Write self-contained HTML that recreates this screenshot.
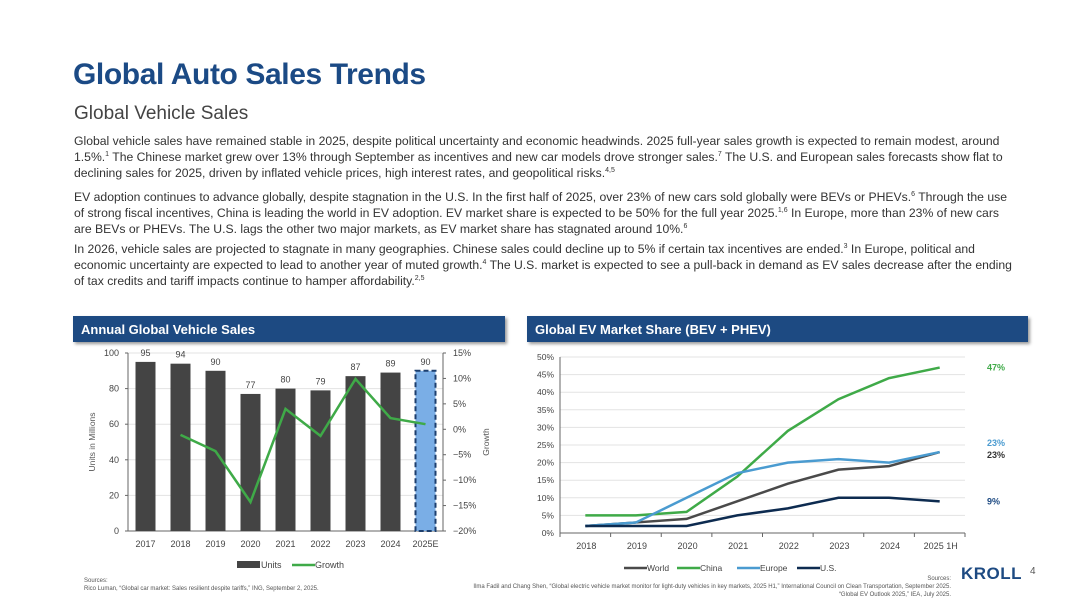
<!DOCTYPE html>
<html><head><meta charset="utf-8"><style>
*{margin:0;padding:0;box-sizing:border-box}
body{width:1067px;height:600px;background:#fff;font-family:"Liberation Sans",sans-serif;position:relative;overflow:hidden;color:#333}
.abs{position:absolute}
h1{position:absolute;left:73px;top:58px;font-size:30px;font-weight:bold;color:#1b4a85;letter-spacing:-0.4px}
h2{position:absolute;left:74px;top:103px;font-size:19px;font-weight:normal;color:#444}
.p{position:absolute;left:74px;font-size:12.2px;line-height:16px;color:#333;white-space:nowrap}
sup{font-size:7px;vertical-align:5px;line-height:0}
.banner{position:absolute;top:316px;height:26px;background:#1d4a82;color:#fff;font-weight:bold;font-size:13px;padding:6px 0 0 8px;box-shadow:2px 2px 3px #999}
svg text{font-family:"Liberation Sans",sans-serif}
</style></head><body>
<h1>Global Auto Sales Trends</h1>
<h2>Global Vehicle Sales</h2>
<div class="p" style="top:133px">Global vehicle sales have remained stable in 2025, despite political uncertainty and economic headwinds. 2025 full-year sales growth is expected to remain modest, around<br>1.5%.<sup>1</sup> The Chinese market grew over 13% through September as incentives and new car models drove stronger sales.<sup>7</sup> The U.S. and European sales forecasts show flat to<br>declining sales for 2025, driven by inflated vehicle prices, high interest rates, and geopolitical risks.<sup>4,5</sup></div>
<div class="p" style="top:189px">EV adoption continues to advance globally, despite stagnation in the U.S. In the first half of 2025, over 23% of new cars sold globally were BEVs or PHEVs.<sup>6</sup> Through the use<br>of strong fiscal incentives, China is leading the world in EV adoption. EV market share is expected to be 50% for the full year 2025.<sup>1,6</sup> In Europe, more than 23% of new cars<br>are BEVs or PHEVs. The U.S. lags the other two major markets, as EV market share has stagnated around 10%.<sup>6</sup></div>
<div class="p" style="top:241px">In 2026, vehicle sales are projected to stagnate in many geographies. Chinese sales could decline up to 5% if certain tax incentives are ended.<sup>3</sup> In Europe, political and<br>economic uncertainty are expected to lead to another year of muted growth.<sup>4</sup> The U.S. market is expected to see a pull-back in demand as EV sales decrease after the ending<br>of tax credits and tariff impacts continue to hamper affordability.<sup>2,5</sup></div>

<div class="banner" style="left:73px;width:432px">Annual Global Vehicle Sales</div>
<div class="banner" style="left:527px;width:501px">Global EV Market Share (BEV + PHEV)</div>

<svg id="c1" class="abs" style="left:0;top:0" width="1067" height="600"></svg>

<div class="abs" style="left:84px;top:577px;font-size:6px;color:#555;line-height:8px">Sources:<br>Rico Luman, “Global car market: Sales resilient despite tariffs,” ING, September 2, 2025.</div>
<div class="abs" style="right:116px;top:575px;font-size:6px;color:#555;line-height:8px;text-align:right">Sources:<br>Ilma Fadil and Chang Shen, “Global electric vehicle market monitor for light-duty vehicles in key markets, 2025 H1,” International Council on Clean Transportation, September 2025.<br>“Global EV Outlook 2025,” IEA, July 2025.</div>
<div class="abs" style="left:961px;top:564px;font-size:17px;font-weight:bold;color:#1d4a82;letter-spacing:0.5px">KROLL</div>
<div class="abs" style="left:1030px;top:566px;font-size:10px;color:#555">4</div>

<script>
const years1=["2017","2018","2019","2020","2021","2022","2023","2024","2025E"];
const units=[95,94,90,77,80,79,87,89,90];
const growth=[null,-1.1,-4.3,-14.3,4,-1.3,9.9,2.2,1];
const leftTicks=[0,20,40,60,80,100];
const rightTicks=[15,10,5,0,-5,-10,-15,-20];
const years2=["2018","2019","2020","2021","2022","2023","2024","2025 1H"];
const world=[2,3,4,9,14,18,19,23];
const china=[5,5,6,16,29,38,44,47];
const europe=[2,3,10,17,20,21,20,23];
const us=[2,2,2,5,7,10,10,9];
const shareTicks=[0,5,10,15,20,25,30,35,40,45,50];

const svg=document.getElementById('c1');const NS="http://www.w3.org/2000/svg";
function mk(t,a,txt){const e=document.createElementNS(NS,t);for(const k in a)e.setAttribute(k,a[k]);if(txt!=null)e.textContent=txt;svg.appendChild(e);return e;}

// chart 1
const L={x0:128,x1:443,y0:531,y1:353};
const bw=(L.x1-L.x0)/years1.length;
const xb=i=>L.x0+bw*(i+0.5);
const yl=v=>L.y0-(v/100)*(L.y0-L.y1);
const yr=v=>L.y0-((v+20)/35)*(L.y0-L.y1);
leftTicks.forEach(v=>{
 if(v>0){const g=mk('line',{x1:L.x0,x2:L.x1,y1:yl(v),y2:yl(v),stroke:'#e3e3e3','stroke-width':1});}
 const t=mk('text',{x:L.x0-9,y:yl(v)+3,'font-size':9,fill:'#444','text-anchor':'end'},v);
 mk('line',{x1:L.x0-3,x2:L.x0,y1:yl(v),y2:yl(v),stroke:'#666'});
});
rightTicks.forEach(v=>{
 const t=mk('text',{x:L.x1+10,y:yr(v)+3,'font-size':9,fill:'#444'},(v<0?'\u2212':'')+Math.abs(v)+'%');
 mk('line',{x1:L.x1,x2:L.x1+3,y1:yr(v),y2:yr(v),stroke:'#666'});
});
mk('line',{x1:L.x0,x2:L.x0,y1:L.y1,y2:L.y0,stroke:'#666'});
mk('line',{x1:L.x1,x2:L.x1,y1:L.y1,y2:L.y0,stroke:'#666'});
mk('line',{x1:L.x0,x2:L.x1,y1:L.y0,y2:L.y0,stroke:'#666'});
units.forEach((v,i)=>{
 const last=i===units.length-1;
 const r=mk('rect',{x:xb(i)-10,y:yl(v),width:20,height:L.y0-yl(v),fill:last?'#7aaee6':'#444',stroke:last?'#1d3f6e':'none','stroke-width':last?2:0,'stroke-dasharray':last?'5,3':''});
 
 const t=mk('text',{x:xb(i),y:yl(v)-6,'font-size':9,fill:'#444','text-anchor':'middle'},v);
 const x=mk('text',{x:xb(i),y:L.y0+16,'font-size':9,fill:'#444','text-anchor':'middle'},years1[i]);
});
let d='';growth.forEach((v,i)=>{if(v==null)return;d+=(d?'L':'M')+xb(i)+','+yr(v);});
const gl=mk('path',{d:d,fill:'none',stroke:'#3faa48','stroke-width':2.5});
const ya=mk('text',{x:0,y:0,'font-size':8.5,fill:'#555','text-anchor':'middle',transform:'translate(95,442) rotate(-90)'},'Units in Millions');
const yb=mk('text',{x:0,y:0,'font-size':8.5,fill:'#555','text-anchor':'middle',transform:'translate(489,442) rotate(-90)'},'Growth');
mk('rect',{x:237,y:561,width:23,height:7,fill:'#444'});
let t=mk('text',{x:261,y:568,'font-size':9,fill:'#444'},'Units');
mk('line',{x1:292,x2:315,y1:565,y2:565,stroke:'#3faa48','stroke-width':2.5});
t=mk('text',{x:315,y:568,'font-size':9,fill:'#444'},'Growth');

// chart 2
const R={x0:560,x1:965,y0:533,y1:357};
const sw=(R.x1-R.x0)/years2.length;
const xs=i=>R.x0+sw*(i+0.5);
const ys=v=>R.y0-(v/50)*(R.y0-R.y1);
shareTicks.forEach(v=>{
 if(v>0){const g=mk('line',{x1:R.x0,x2:R.x1,y1:ys(v),y2:ys(v),stroke:'#e3e3e3'});}
 const tt=mk('text',{x:R.x0-6,y:ys(v)+3,'font-size':8.5,fill:'#444','text-anchor':'end'},v+'%');
});
mk('line',{x1:R.x0,x2:R.x0,y1:R.y1,y2:R.y0,stroke:'#666'});
mk('line',{x1:R.x0,x2:R.x1,y1:R.y0,y2:R.y0,stroke:'#666'});
years2.forEach((y,i)=>{
 mk('line',{x1:R.x0+sw*i,x2:R.x0+sw*i,y1:R.y0,y2:R.y0+4,stroke:'#666'});
 const tt=mk('text',{x:xs(i)+1,y:R.y0+16,'font-size':9,fill:'#444','text-anchor':'middle'},y);
});
mk('line',{x1:R.x1,x2:R.x1,y1:R.y0,y2:R.y0+4,stroke:'#666'});
const series=[['world',world,'#4a4a4a'],['china',china,'#3faa48'],['europe',europe,'#4a9bd0'],['us',us,'#0d2b50']];
series.forEach(s=>{
 let p='';s[1].forEach((v,i)=>{p+=(i?'L':'M')+xs(i)+','+ys(v);});
 const e=mk('path',{d:p,fill:'none',stroke:s[2],'stroke-width':2.5});
});
const n=years2.length-1;
[[china,'#3faa48',0],[europe,'#4a9bd0',-9],[world,'#333',3],[us,'#1d4a82',0]].forEach(a=>{
 const tt=mk('text',{x:987,y:ys(a[0][n])+3+a[2],'font-size':9,fill:a[1],'font-weight':'bold'},a[0][n]+'%');
});
const legs=[['World','#4a4a4a',647],['China','#3faa48',700],['Europe','#4a9bd0',760],['U.S.','#0d2b50',820]];
legs.forEach(l=>{
 mk('line',{x1:l[2]-23,x2:l[2],y1:568,y2:568,stroke:l[1],'stroke-width':2.5});
 const tt=mk('text',{x:l[2],y:571,'font-size':8.5,fill:'#444'},l[0]);
});
</script>
</body></html>
